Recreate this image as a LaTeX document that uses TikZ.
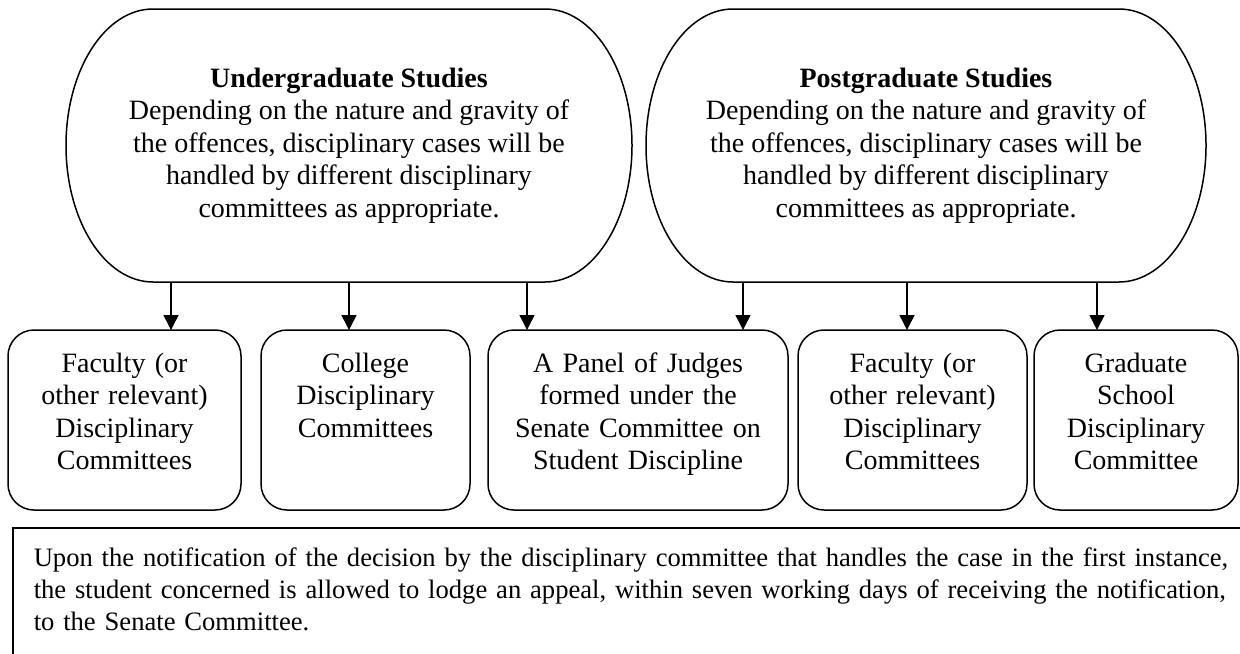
\documentclass[tikz,border=0pt]{standalone}
\usepackage{fontspec}
\setmainfont{Liberation Serif}
\usepackage{tikz}
\usetikzlibrary{arrows.meta,positioning,calc}

\begin{document}
\begin{tikzpicture}[
    x=0.5pt, y=-0.5pt,
    line width=0.75pt,
    every node/.style={font=\fontsize{14}{16.25}\selectfont},
    study/.style={minimum height=136.5pt, inner sep=0pt, outer sep=0pt, align=center},
    committee/.style={draw, rounded corners=13pt, anchor=north, align=center, inner sep=0pt, outer sep=0pt, text height=21pt, text depth=69pt},
    note/.style={draw, anchor=north west, align=left, inner xsep=10.5pt, inner ysep=0pt, text width=615pt, text height=19.5pt, text depth=55pt, font=\fontsize{13.3}{16}\selectfont},
    arrow/.style={-{Triangle[length=7.5pt,width=7.5pt]}}
]
    \useasboundingbox (0,0) rectangle (1240,653);
    \clip (0,0) rectangle (1240,653);

    % Studies
    \node[study, minimum width=283pt] (ug) at (349,145.5) {
        {\bfseries Undergraduate Studies}\\
        Depending on the nature and gravity of\\
        the offences, disciplinary cases will be\\
        handled by different disciplinary\\
        committees as appropriate.
    };

    \node[study, minimum width=280pt] (pg) at (926,145.5) {
        {\bfseries Postgraduate Studies}\\
        Depending on the nature and gravity of\\
        the offences, disciplinary cases will be\\
        handled by different disciplinary\\
        committees as appropriate.
    };

    \foreach \s in {ug,pg}
        \draw ([xshift=43.5pt]\s.north west) -- ([xshift=-43.5pt]\s.north east)
            arc[start angle=90, end angle=-90, x radius=43.5pt, y radius=68.25pt]
            -- ([xshift=43.5pt]\s.south west)
            arc[start angle=270, end angle=90, x radius=43.5pt, y radius=68.25pt] -- cycle;

    % Committees
    \node[committee, text width=116.5pt] (faculty) at (124.5,330) {Faculty (or\\ other relevant)\\ Disciplinary\\ Committees};
    \node[committee, text width=104.5pt] (college) at (365.5,330) {College\\ Disciplinary\\ Committees};
    \node[committee, text width=150pt] (panel) at (638,330) {A Panel of Judges\\ formed under the\\ Senate Committee on\\ Student Discipline};
    \node[committee, text width=114.5pt] (pgfaculty) at (912.5,330) {Faculty (or\\ other relevant)\\ Disciplinary\\ Committees};
    \node[committee, text width=102pt] (graduate) at (1136,330) {Graduate\\ School\\ Disciplinary\\ Committee};

    % Appeal
    \node[note] (appeal) at (12,527) {
        Upon the notification of the decision by the disciplinary committee that handles the case in the first instance,\\
        the student concerned is allowed to lodge an appeal, within seven working days of receiving the notification,\\
        to the Senate Committee.
    };

    % Arrows
    \draw[arrow] ([xshift=-89pt]ug.south) -- ([xshift=-89pt]ug.south |- faculty.north);
    \draw[arrow] (ug.south) -- (ug.south |- college.north);
    \draw[arrow] ([xshift=89pt]ug.south) -- ([xshift=89pt]ug.south |- panel.north);
    \draw[arrow] ([xshift=-91.5pt]pg.south) -- ([xshift=-91.5pt]pg.south |- panel.north);
    \draw[arrow] ([xshift=-9.5pt]pg.south) -- ([xshift=-9.5pt]pg.south |- pgfaculty.north);
    \draw[arrow] ([xshift=85.5pt]pg.south) -- ([xshift=85.5pt]pg.south |- graduate.north);
\end{tikzpicture}
\end{document}
